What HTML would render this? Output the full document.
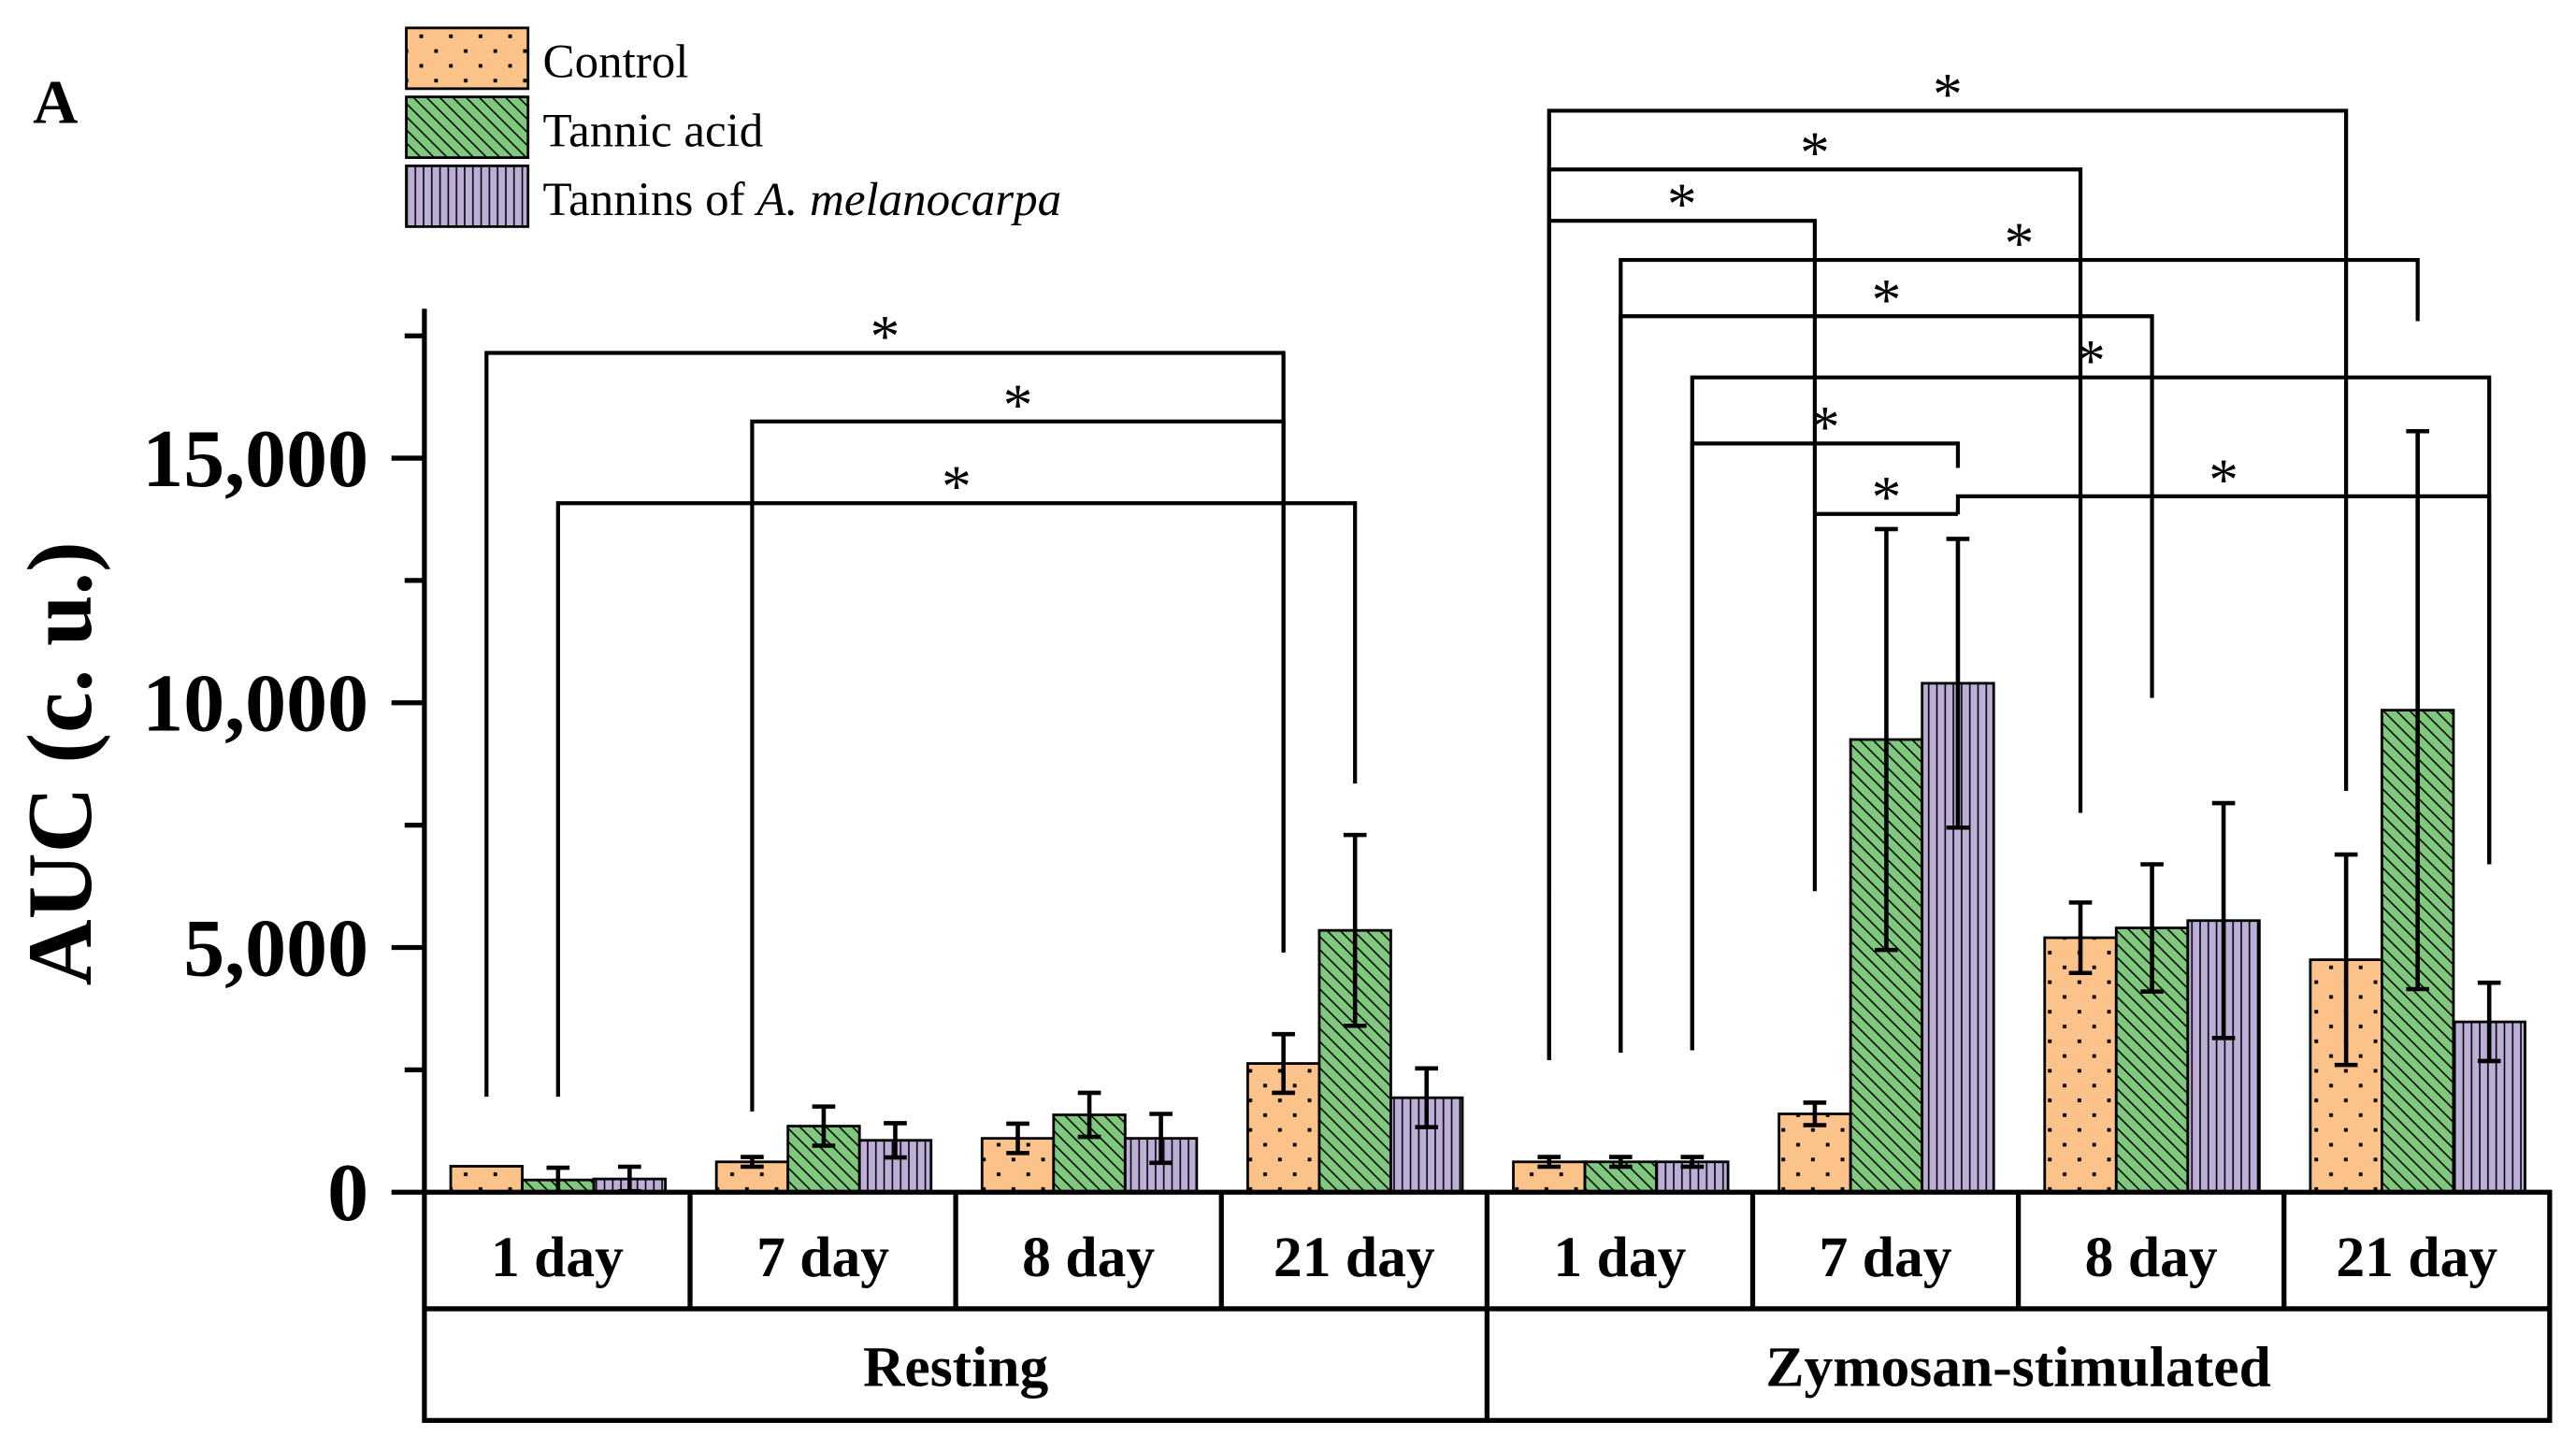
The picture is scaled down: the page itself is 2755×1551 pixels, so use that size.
<!DOCTYPE html>
<html><head><meta charset="utf-8"><style>
html,body{margin:0;padding:0;background:#fff}
svg{display:block}
text{font-family:"Liberation Serif",serif}
</style></head><body>
<svg id="chart" width="2755" height="1551" viewBox="0 0 1566 883" preserveAspectRatio="none" xmlns="http://www.w3.org/2000/svg">
<defs>
<pattern id="pDots" width="18" height="18" patternUnits="userSpaceOnUse"><rect width="18" height="18" fill="#fbc289"/><rect x="3" y="3" width="2.2" height="2.2" fill="#000"/><rect x="12" y="12" width="2.2" height="2.2" fill="#000"/></pattern>
<pattern id="pDiag" width="8" height="8" patternUnits="userSpaceOnUse"><rect width="8" height="8" fill="#80c87e"/><path d="M-2,-2 L10,10 M-2,6 L2,10 M6,-2 L10,2" stroke="#000" stroke-width="0.9"/></pattern>
<pattern id="pVert" width="5" height="10" patternUnits="userSpaceOnUse"><rect width="5" height="10" fill="#bcaed6"/><path d="M2.5,0 V10" stroke="#000" stroke-width="0.9"/></pattern>
</defs>
<g id="marks"></g>
</svg>
<script>
const categories = ["1 day","7 day","8 day","21 day","1 day","7 day","8 day","21 day"];
const groups = ["Resting","Zymosan-stimulated"];
const seriesNames = ["Control","Tannic acid","Tannins of A. melanocarpa"];
const controlVals = [530,620,1100,2630,620,1600,5200,4750];
const controlErr  = [0,100,300,600,100,230,720,2150];
const tannicVals  = [250,1350,1580,5350,620,9250,5400,9850];
const tannicErr   = [250,400,450,1950,100,4300,1300,5700];
const melanoVals  = [270,1060,1100,1930,620,10400,5550,3480];
const melanoErr   = [250,350,500,600,100,2950,2400,800];
const yTicks = [0,5000,10000,15000];
const yTickLabels = ["0","5,000","10,000","15,000"];
const yMinorTicks = [2500,7500,12500,17500];
// significance brackets: [group idx A, series A, group idx B, series B, bracket value]
const brackets = [
 [0,0,3,0,17150],[1,0,3,0,15750],[0,1,3,1,14080],
 [4,0,7,0,22100],[4,0,6,0,20900],[4,0,5,0,19850],
 [4,1,7,1,19050],[4,1,6,1,17900],[4,2,7,2,16650],
 [4,2,5,2,15300],[5,0,5,2,13860],[5,2,7,2,14220]
];
const bracketEnds = [[1950,4900],[1650,4900],[1950,8350],[2700,8200],[2700,7750],[6150,6150],[2850,17800],[2850,10100],[2900,6700],[2900,14800],[13860,13850],[13860,6700]];

const NS="http://www.w3.org/2000/svg";
const g=document.getElementById('marks');
const X0=258,X1=1550,Y0=726,PX=149/5000;
const y=v=>Y0-v*PX;
const gw=(X1-X0)/categories.length, bw=43.5, boff=16;
const bx=(c,s)=>X0+c*gw+boff+s*bw;
function el(tag,attrs,parent){const e=document.createElementNS(NS,tag);for(const k in attrs)e.setAttribute(k,attrs[k]);(parent||g).appendChild(e);return e;}

const vals=[controlVals,tannicVals,melanoVals],errs=[controlErr,tannicErr,melanoErr],fills=["url(#pDots)","url(#pDiag)","url(#pVert)"];
for(let c=0;c<categories.length;c++){for(let s=0;s<3;s++){
 const v=vals[s][c],x=bx(c,s);
 const r=el('rect',{x:x,y:y(v),width:bw,height:Y0-y(v),fill:fills[s],stroke:'#000','stroke-width':1.6});
 
 
 const e=errs[s][c];
 if(e>0){const cx=x+bw/2;
  const eb=el('path',{d:`M${cx},${y(v+e)}V${y(v-e)}M${cx-7},${y(v+e)}H${cx+7}M${cx-7},${y(v-e)}H${cx+7}`,stroke:'#000','stroke-width':2.6,fill:'none'});
  
  }
}}
brackets.forEach((b,i)=>{
 const xa=bx(b[0],b[1])+bw/2, xb=bx(b[2],b[3])+bw/2, yb=y(b[4]);
 const p=el('path',{d:`M${xa},${y(bracketEnds[i][0])}V${yb}H${xb}V${y(bracketEnds[i][1])}`,stroke:'#000','stroke-width':2.4,fill:'none'});
 
 
 const t=el('text',{x:(xa+xb)/2,y:yb+2,'font-size':36,'text-anchor':'middle','font-family':'Liberation Sans, sans-serif'});
 t.textContent='*';
 
 
});
const ax=el('path',{d:`M${X0},188V${Y0}`,stroke:'#000','stroke-width':3,fill:'none'});


yTicks.forEach((v,i)=>{
 el('path',{d:`M${X0-20},${y(v)}H${X0}`,stroke:'#000','stroke-width':3});
 const t=el('text',{x:224,y:y(v)+17,'font-size':50,'font-weight':'bold','text-anchor':'end'});
 t.textContent=yTickLabels[i];
 
 
});
yMinorTicks.forEach(v=>el('path',{d:`M${X0-12},${y(v)}H${X0}`,stroke:'#000','stroke-width':3}));
const tb=el('path',{d:`M${X0},${Y0}H${X1}V865H${X0}ZM${X0},797H${X1}`,stroke:'#000','stroke-width':3,fill:'none'});


for(let c=1;c<categories.length;c++){el('path',{d:`M${X0+c*gw},${Y0}V${c==4?865:797}`,stroke:'#000','stroke-width':3});}
categories.forEach((c,i)=>{const t=el('text',{x:X0+(i+0.5)*gw,y:777,'font-size':35,'font-weight':'bold','text-anchor':'middle'});t.textContent=c;
 
 });
groups.forEach((gname,i)=>{const t=el('text',{x:X0+(i*4+2)*gw,y:844,'font-size':35,'font-weight':'bold','text-anchor':'middle'});t.textContent=gname;
 
 });
const yt=el('text',{x:0,y:0,'font-size':56,'font-weight':'bold','text-anchor':'middle',transform:'translate(55,465) rotate(-90)'});
yt.textContent='AUC (c. u.)';


const pa=el('text',{x:20,y:75,'font-size':38,'font-weight':'bold'});pa.textContent='A';


seriesNames.forEach((n,i)=>{
 const r=el('rect',{x:247,y:17+i*42,width:74,height:37,fill:fills[i],stroke:'#000','stroke-width':1.6});
 
 
 const t=el('text',{x:330,y:47+i*42,'font-size':29});
 if(i==2){t.innerHTML='Tannins of <tspan font-style="italic">A. melanocarpa</tspan>';}else t.textContent=n;
 
 
});
</script>
</body></html>
